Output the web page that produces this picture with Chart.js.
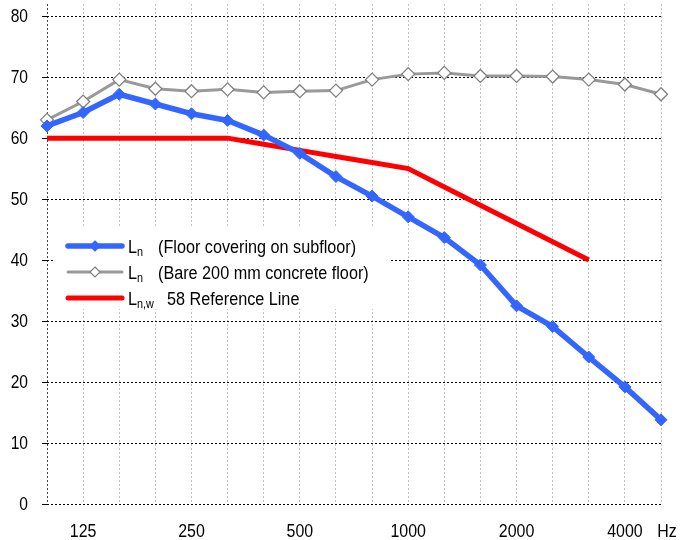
<!DOCTYPE html>
<html>
<head>
<meta charset="utf-8">
<script src="https://cdn.jsdelivr.net/npm/chart.js@4.4.0/dist/chart.umd.min.js"></script>
<style>
  html, body { margin: 0; padding: 0; background: #ffffff; }
  #wrap { width: 686px; height: 540px; position: relative; }
</style>
</head>
<body>
<div id="wrap"><canvas id="c" width="686" height="540"></canvas></div>
<script>
// ---- Data ----
const frequencies = ['100','125','160','200','250','315','400','500','630','800','1000','1250','1600','2000','2500','3150','4000','5000'];
const xTickLabels = ['', '125', '', '', '250', '', '', '500', '', '', '1000', '', '', '2000', '', '', '4000', 'Hz'];
const lnFloorCovering = [62.0, 64.2, 67.2, 65.6, 64.0, 62.9, 60.5, 57.5, 53.7, 50.5, 47.1, 43.7, 39.2, 32.5, 29.1, 24.1, 19.2, 13.8];
const lnBareConcrete = [63.0, 66.0, 69.6, 68.1, 67.7, 68.0, 67.5, 67.7, 67.8, 69.6, 70.5, 70.7, 70.2, 70.2, 70.1, 69.6, 68.8, 67.2];
const lnwReference = [60, 60, 60, 60, 60, 60, 59, 58, 57, 56, 55, 52, 49, 46, 43, 40, null, null];
const yTickValues = [0, 10, 20, 30, 40, 50, 60, 70, 80];
const yMin = 0, yMax = 82;
const legendMain = ['L', 'L', 'L'];
const legendSub = ['n', 'n', 'n,w'];
const legendText = ['(Floor covering on subfloor)', '(Bare 200 mm concrete floor)', '58 Reference Line'];

const FONT = "'Liberation Sans Narrow', 'Arial Narrow', 'Liberation Sans', Arial, sans-serif";

function narrowText(ctx, text, x, y, size, sx, align) {
  ctx.save();
  ctx.font = size + 'px ' + FONT;
  ctx.translate(x, y);
  ctx.scale(sx, 1);
  ctx.textAlign = align;
  ctx.fillText(text, 0, 0);
  const w = ctx.measureText(text).width * sx;
  ctx.restore();
  return w;
}

const tickLabelPlugin = {
  id: 'narrowTicks',
  afterDraw(chart) {
    const ctx = chart.ctx;
    const xs = chart.scales.x, ys = chart.scales.y;
    ctx.save();
    ctx.fillStyle = '#000000';
    ctx.textBaseline = 'middle';
    ys.ticks.forEach(t => {
      narrowText(ctx, String(t.value), xs.left - 19, ys.getPixelForValue(t.value) + 1, 19, 0.82, 'right');
    });
    ctx.textBaseline = 'alphabetic';
    xTickLabels.forEach((lab, i) => {
      if (!lab) return;
      const shift = (i === xTickLabels.length - 1) ? 6 : 0;
      narrowText(ctx, lab, xs.getPixelForTick(i) + shift, 537, 19, 0.84, 'center');
    });
    ctx.restore();
  }
};

const legendPlugin = {
  id: 'customLegend',
  afterDraw(chart) {
    const ctx = chart.ctx;
    const ca = chart.chartArea;
    const bx = ca.left + 7, by = 228, bw = 335, bh = 81;
    ctx.save();
    ctx.fillStyle = '#ffffff';
    ctx.fillRect(bx, by, bw, bh);
    const rows = [246, 272, 298];
    const textOffsets = [111, 111, 120];
    chart.data.datasets.forEach((ds, i) => {
      const y = rows[i];
      const x1 = bx + 14, x2 = bx + 68;
      ctx.strokeStyle = ds.borderColor;
      ctx.lineWidth = ds.borderWidth;
      ctx.lineCap = 'round';
      ctx.beginPath();
      ctx.moveTo(x1, y);
      ctx.lineTo(x2, y);
      ctx.stroke();
      if (ds.pointRadius > 0) {
        const mx = (x1 + x2) / 2, r = 5;
        ctx.beginPath();
        ctx.moveTo(mx, y - r); ctx.lineTo(mx + r, y); ctx.lineTo(mx, y + r); ctx.lineTo(mx - r, y); ctx.closePath();
        ctx.fillStyle = ds.pointBackgroundColor;
        ctx.fill();
        ctx.lineWidth = 1.2;
        ctx.strokeStyle = ds.pointBorderColor;
        ctx.stroke();
      }
      ctx.fillStyle = '#000000';
      ctx.textBaseline = 'alphabetic';
      const tx = bx + 74;
      const lw = narrowText(ctx, legendMain[i], tx, y + 7, 18, 0.9, 'left');
      narrowText(ctx, legendSub[i], tx + lw, y + 10, 12, 0.9, 'left');
      narrowText(ctx, legendText[i], ca.left + textOffsets[i], y + 7, 18, 0.9, 'left');
    });
    ctx.restore();
  }
};

new Chart(document.getElementById('c'), {
  type: 'line',
  data: {
    labels: frequencies,
    datasets: [
      {
        label: legendMain[0] + legendSub[0] + ' ' + legendText[0],
        data: lnFloorCovering,
        borderColor: '#3366ff',
        backgroundColor: '#3366ff',
        borderWidth: 5.5,
        pointStyle: 'rectRot',
        pointRadius: 6,
        pointBackgroundColor: '#3366ff',
        pointBorderColor: '#3366ff',
        pointBorderWidth: 1,
        tension: 0,
        clip: false
      },
      {
        label: legendMain[1] + legendSub[1] + ' ' + legendText[1],
        data: lnBareConcrete,
        borderColor: '#999999',
        backgroundColor: '#ffffff',
        borderWidth: 3,
        pointStyle: 'rectRot',
        pointRadius: 6.5,
        pointBackgroundColor: '#ffffff',
        pointBorderColor: '#808080',
        pointBorderWidth: 1.3,
        tension: 0,
        clip: false
      },
      {
        label: legendMain[2] + legendSub[2] + ' ' + legendText[2],
        data: lnwReference,
        borderColor: '#ff0000',
        backgroundColor: '#ff0000',
        borderWidth: 5,
        pointRadius: 0,
        tension: 0,
        spanGaps: false,
        clip: false
      }
    ]
  },
  options: {
    responsive: false,
    animation: false,
    devicePixelRatio: 1,
    layout: { autoPadding: false, padding: { top: 4, right: 25, left: 0, bottom: 0 } },
    plugins: { legend: { display: false }, tooltip: { enabled: false } },
    scales: {
      x: {
        offset: false,
        grid: {
          color: (c) => c.index === 0 ? '#444444' : '#c4c4c4',
          lineWidth: 1,
          drawTicks: false
        },
        border: { display: false, dash: [2, 2] },
        ticks: { display: false, autoSkip: false, maxRotation: 0, minRotation: 0 },
        afterFit: (s) => { s.height = 36; s.paddingLeft = 0; s.paddingRight = 0; }
      },
      y: {
        min: yMin,
        max: yMax,
        ticks: { display: false },
        afterBuildTicks: (s) => { s.ticks = yTickValues.map(v => ({ value: v })); },
        grid: {
          color: '#000000',
          lineWidth: 1,
          drawTicks: true,
          tickLength: 5
        },
        border: { display: false, dash: [2, 2] },
        afterFit: (s) => { s.width = 47; s.paddingTop = 0; s.paddingBottom = 0; }
      }
    }
  },
  plugins: [tickLabelPlugin, legendPlugin]
});
</script>
</body>
</html>
